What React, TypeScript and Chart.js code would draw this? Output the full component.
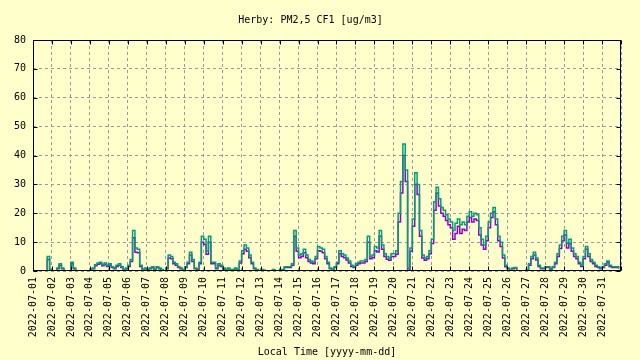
import React, { useEffect, useRef } from 'react';
import { Chart, registerables } from 'chart.js';

Chart.register(...registerables);

const TITLE = 'Herby: PM2,5 CF1 [ug/m3]';
const X_TITLE = 'Local Time [yyyy-mm-dd]';
const MONTH_PREFIX = '2022-07-';
const DAY_LABELS = [
  '01', '02', '03', '04', '05', '06', '07', '08', '09', '10',
  '11', '12', '13', '14', '15', '16', '17', '18', '19', '20',
  '21', '22', '23', '24', '25', '26', '27', '28', '29', '30', '31',
];
const Y_MIN = 0;
const Y_MAX = 80;
const Y_STEP = 10;
const SLOTS_PER_DAY = 8; // 3-hour samples

// purple channel (drawn below)
const channelA = [
  0, 0, 0, 0, 0, 0, 4, 0.3,
  0, 0, 0.8, 2, 0.8, 0, 0, 0,
  2.5, 0.8, 0, 0, 0, 0, 0, 0,
  0.3, 0.8, 1.8, 2.3, 2.5, 1.8, 2.3, 1.6,
  2, 1.2, 0.8, 1.6, 2, 1.2, 0.3, 0.8,
  1.6, 3.3, 11.5, 6.5, 6.3, 1.6, 0.3, 0.8,
  0.3, 0.8, 1.2, 0.3, 1.2, 0.8, 0.3, 0,
  0.8, 4.5, 4.2, 2.5, 2, 1.2, 0.8, 0.3,
  1.2, 2.5, 5.5, 3.3, 0.8, 0.6, 2.5, 10,
  9.2, 5.8, 10, 2.5, 2.5, 0.8, 2, 1.6,
  0.8, 0.3, 0.8, 0.3, 0.3, 0.8, 0.3, 2.8,
  6, 7.5, 6.8, 4.6, 2.5, 0.8, 0.3, 0,
  0.3, 0.2, 0, 0, 0, 0.3, 0, 0,
  0.3, 0.3, 1.2, 1.2, 1.2, 2, 12, 6.8,
  4.6, 5, 6.3, 4.6, 3.3, 2.8, 2.5, 4.2,
  7, 6.8, 6.3, 4.2, 2.5, 0.8, 0.3, 1.2,
  2.5, 6, 5, 4.6, 3.8, 2.8, 1.6, 1.2,
  2, 2.5, 2.8, 2.8, 3.3, 10, 4.2, 4.6,
  7, 6.6, 12, 7.5, 5, 4.1, 3.7, 5,
  5, 5.8, 17, 27, 40, 31, 0.3, 6.8,
  15.5, 30, 26.5, 12, 4.5, 3.7, 4.2, 6,
  9.5, 21, 27, 22.5, 20, 19, 17.5, 16,
  15, 11, 13, 15.5, 13, 14.5, 14, 17,
  18.5, 17, 18, 17.5, 12.5, 9, 7.5, 10.5,
  15, 18.5, 20.5, 16, 10.5, 8.5, 4.5, 1.5,
  0.8, 0.2, 0.8, 1, 0, 0, 0, 0,
  0.3, 2, 4.2, 5.5, 3.8, 1.6, 0.8, 0.8,
  1.2, 1.2, 0.6, 1.2, 2.5, 5, 7.8, 10.5,
  12.5, 8, 9.5, 6.8, 5, 4.2, 2.5, 1.6,
  4.2, 7.5, 5, 3.3, 2.5, 1.6, 1.2, 0.8,
  1.2, 2, 3, 1.6, 1.2, 1.2, 1.2, 0.8,
];

// green channel (drawn on top)
const channelB = [
  0, 0, 0, 0, 0, 0, 5, 0.5,
  0, 0, 1, 2.5, 1, 0, 0, 0,
  3, 1, 0, 0, 0, 0, 0, 0,
  0.5, 1, 2.2, 2.8, 3, 2.2, 2.8, 2,
  2.5, 1.5, 1, 2, 2.5, 1.5, 0.5, 1,
  2, 4, 14, 8, 7.5, 2, 0.5, 1,
  0.5, 1, 1.5, 0.5, 1.5, 1, 0.5, 0,
  1, 5.5, 5, 3, 2.5, 1.5, 1, 0.5,
  1.5, 3, 6.5, 4, 1, 0.8, 3, 12,
  11, 7, 12, 3, 3, 1, 2.5, 2,
  1, 0.5, 1, 0.5, 0.5, 1, 0.5, 3.5,
  7, 9, 8, 5.5, 3, 1, 0.5, 0,
  0.5, 0.3, 0, 0, 0, 0.5, 0, 0,
  0.5, 0.5, 1.5, 1.5, 1.5, 2.5, 14, 8,
  5.5, 6, 7.5, 5.5, 4, 3.5, 3, 5,
  8.5, 8, 7.5, 5, 3, 1, 0.5, 1.5,
  3, 7, 6, 5.5, 4.5, 3.5, 2, 1.5,
  2.5, 3, 3.5, 3.5, 4, 12, 5, 5.5,
  8.5, 8, 14, 9, 6, 5, 4.5, 6,
  6, 7, 20, 31, 44, 35, 1, 8,
  18, 34, 30, 14, 5.5, 4.5, 5, 7,
  11, 24, 29, 25, 22, 21, 19.5, 18,
  17, 14, 16.5, 18, 16, 17, 16, 19,
  20.5, 19, 20, 19.5, 15, 11, 9, 12,
  17, 20, 22, 18, 12, 10, 5.5, 2,
  1, 0.3, 1, 1.2, 0, 0, 0, 0,
  0.5, 2.5, 5, 6.5, 4.5, 2, 1, 1,
  1.5, 1.5, 0.8, 1.5, 3, 6, 9, 12,
  14, 9.5, 11, 8, 6, 5, 3, 2,
  5, 8.5, 6, 4, 3, 2, 1.5, 1,
  1.5, 2.5, 3.5, 2, 1.5, 1.5, 1.5, 1,
];

const BG = '#ffffcc';
const PURPLE = '#9400d3';
const GREEN = '#009e73';
const GRID = '#9a9a9a';
const FONT = { family: "'DejaVu Sans Mono', monospace", size: 10, weight: 'normal' as const };

const toPoints = (arr: number[]) => arr.map((v, i) => ({ x: i / SLOTS_PER_DAY, y: v }));

const framePlugin = {
  id: 'gnuFrame',
  beforeDraw(chart: any) {
    const { ctx, width, height } = chart;
    ctx.save();
    ctx.fillStyle = BG;
    ctx.fillRect(0, 0, width, height);
    ctx.restore();
  },
  afterDatasetsDraw(chart: any) {
    const { ctx, chartArea: a, scales } = chart;
    const L = Math.round(a.left) + 0.5;
    const R = Math.round(a.right) - 0.5;
    const T = Math.round(a.top) + 0.5;
    const B = Math.round(a.bottom) - 0.5;
    ctx.save();
    ctx.strokeStyle = '#000';
    ctx.lineWidth = 1;
    ctx.beginPath();
    const tl = 4;
    scales.x.ticks.forEach((t: any) => {
      const px = Math.round(scales.x.getPixelForValue(t.value)) + 0.5;
      ctx.moveTo(px, B);
      ctx.lineTo(px, B - tl);
      ctx.moveTo(px, T);
      ctx.lineTo(px, T + tl);
    });
    scales.y.ticks.forEach((t: any) => {
      const py = Math.round(scales.y.getPixelForValue(t.value)) + 0.5;
      ctx.moveTo(L, py);
      ctx.lineTo(L + tl, py);
      ctx.moveTo(R, py);
      ctx.lineTo(R - tl, py);
    });
    ctx.stroke();
    ctx.strokeRect(L, T, R - L, B - T);
    ctx.restore();
  },
};

export default function App() {
  const ref = useRef<HTMLCanvasElement | null>(null);

  useEffect(() => {
    document.body.style.margin = '0';
    document.body.style.background = BG;
    const canvas = ref.current;
    if (!canvas) return;
    const chart = new Chart(canvas, {
      type: 'line',
      data: {
        datasets: [
          {
            label: 'A',
            data: toPoints(channelA),
            borderColor: PURPLE,
            backgroundColor: PURPLE,
            borderWidth: 1.5,
            pointRadius: 0,
            stepped: true,
            order: 2,
          },
          {
            label: 'B',
            data: toPoints(channelB),
            borderColor: GREEN,
            backgroundColor: GREEN,
            borderWidth: 1.5,
            pointRadius: 0,
            stepped: true,
            order: 1,
          },
        ],
      },
      options: {
        animation: false,
        responsive: false,
        devicePixelRatio: 1,
        layout: { padding: { left: 0, right: 19, top: 0, bottom: 0 } },
        plugins: {
          legend: { display: false },
          tooltip: { enabled: false },
          title: {
            display: true,
            text: TITLE,
            color: '#000',
            font: FONT,
            padding: { top: 14, bottom: 14 },
          },
        },
        scales: {
          x: {
            type: 'linear',
            min: 0,
            max: DAY_LABELS.length,
            afterFit: (s: any) => { s.height = 89; },
            ticks: {
              stepSize: 1,
              autoSkip: false,
              maxRotation: 90,
              minRotation: 90,
              padding: 6,
              color: '#000',
              font: FONT,
              callback: (v: any) => {
                const lab = DAY_LABELS[Math.round(Number(v))];
                return lab ? MONTH_PREFIX + lab : '';
              },
            },
            grid: { color: GRID, lineWidth: 1, drawTicks: false },
            border: { display: false, dash: [3, 3] },
            title: {
              display: true,
              text: X_TITLE,
              color: '#000',
              font: FONT,
              padding: { top: 0, bottom: 2 },
            },
          },
          y: {
            type: 'linear',
            min: Y_MIN,
            max: Y_MAX,
            afterFit: (s: any) => { s.width = 33; },
            ticks: {
              stepSize: Y_STEP,
              padding: 7,
              color: '#000',
              font: FONT,
            },
            grid: { color: GRID, lineWidth: 1, drawTicks: false },
            border: { display: false, dash: [3, 3] },
          },
        },
      },
      plugins: [framePlugin],
    });
    return () => chart.destroy();
  }, []);

  return (
    <div style={{ position: 'absolute', left: 0, top: 0, width: 640, height: 360, background: BG }}>
      <canvas ref={ref} width={640} height={360} style={{ display: 'block' }} />
    </div>
  );
}
